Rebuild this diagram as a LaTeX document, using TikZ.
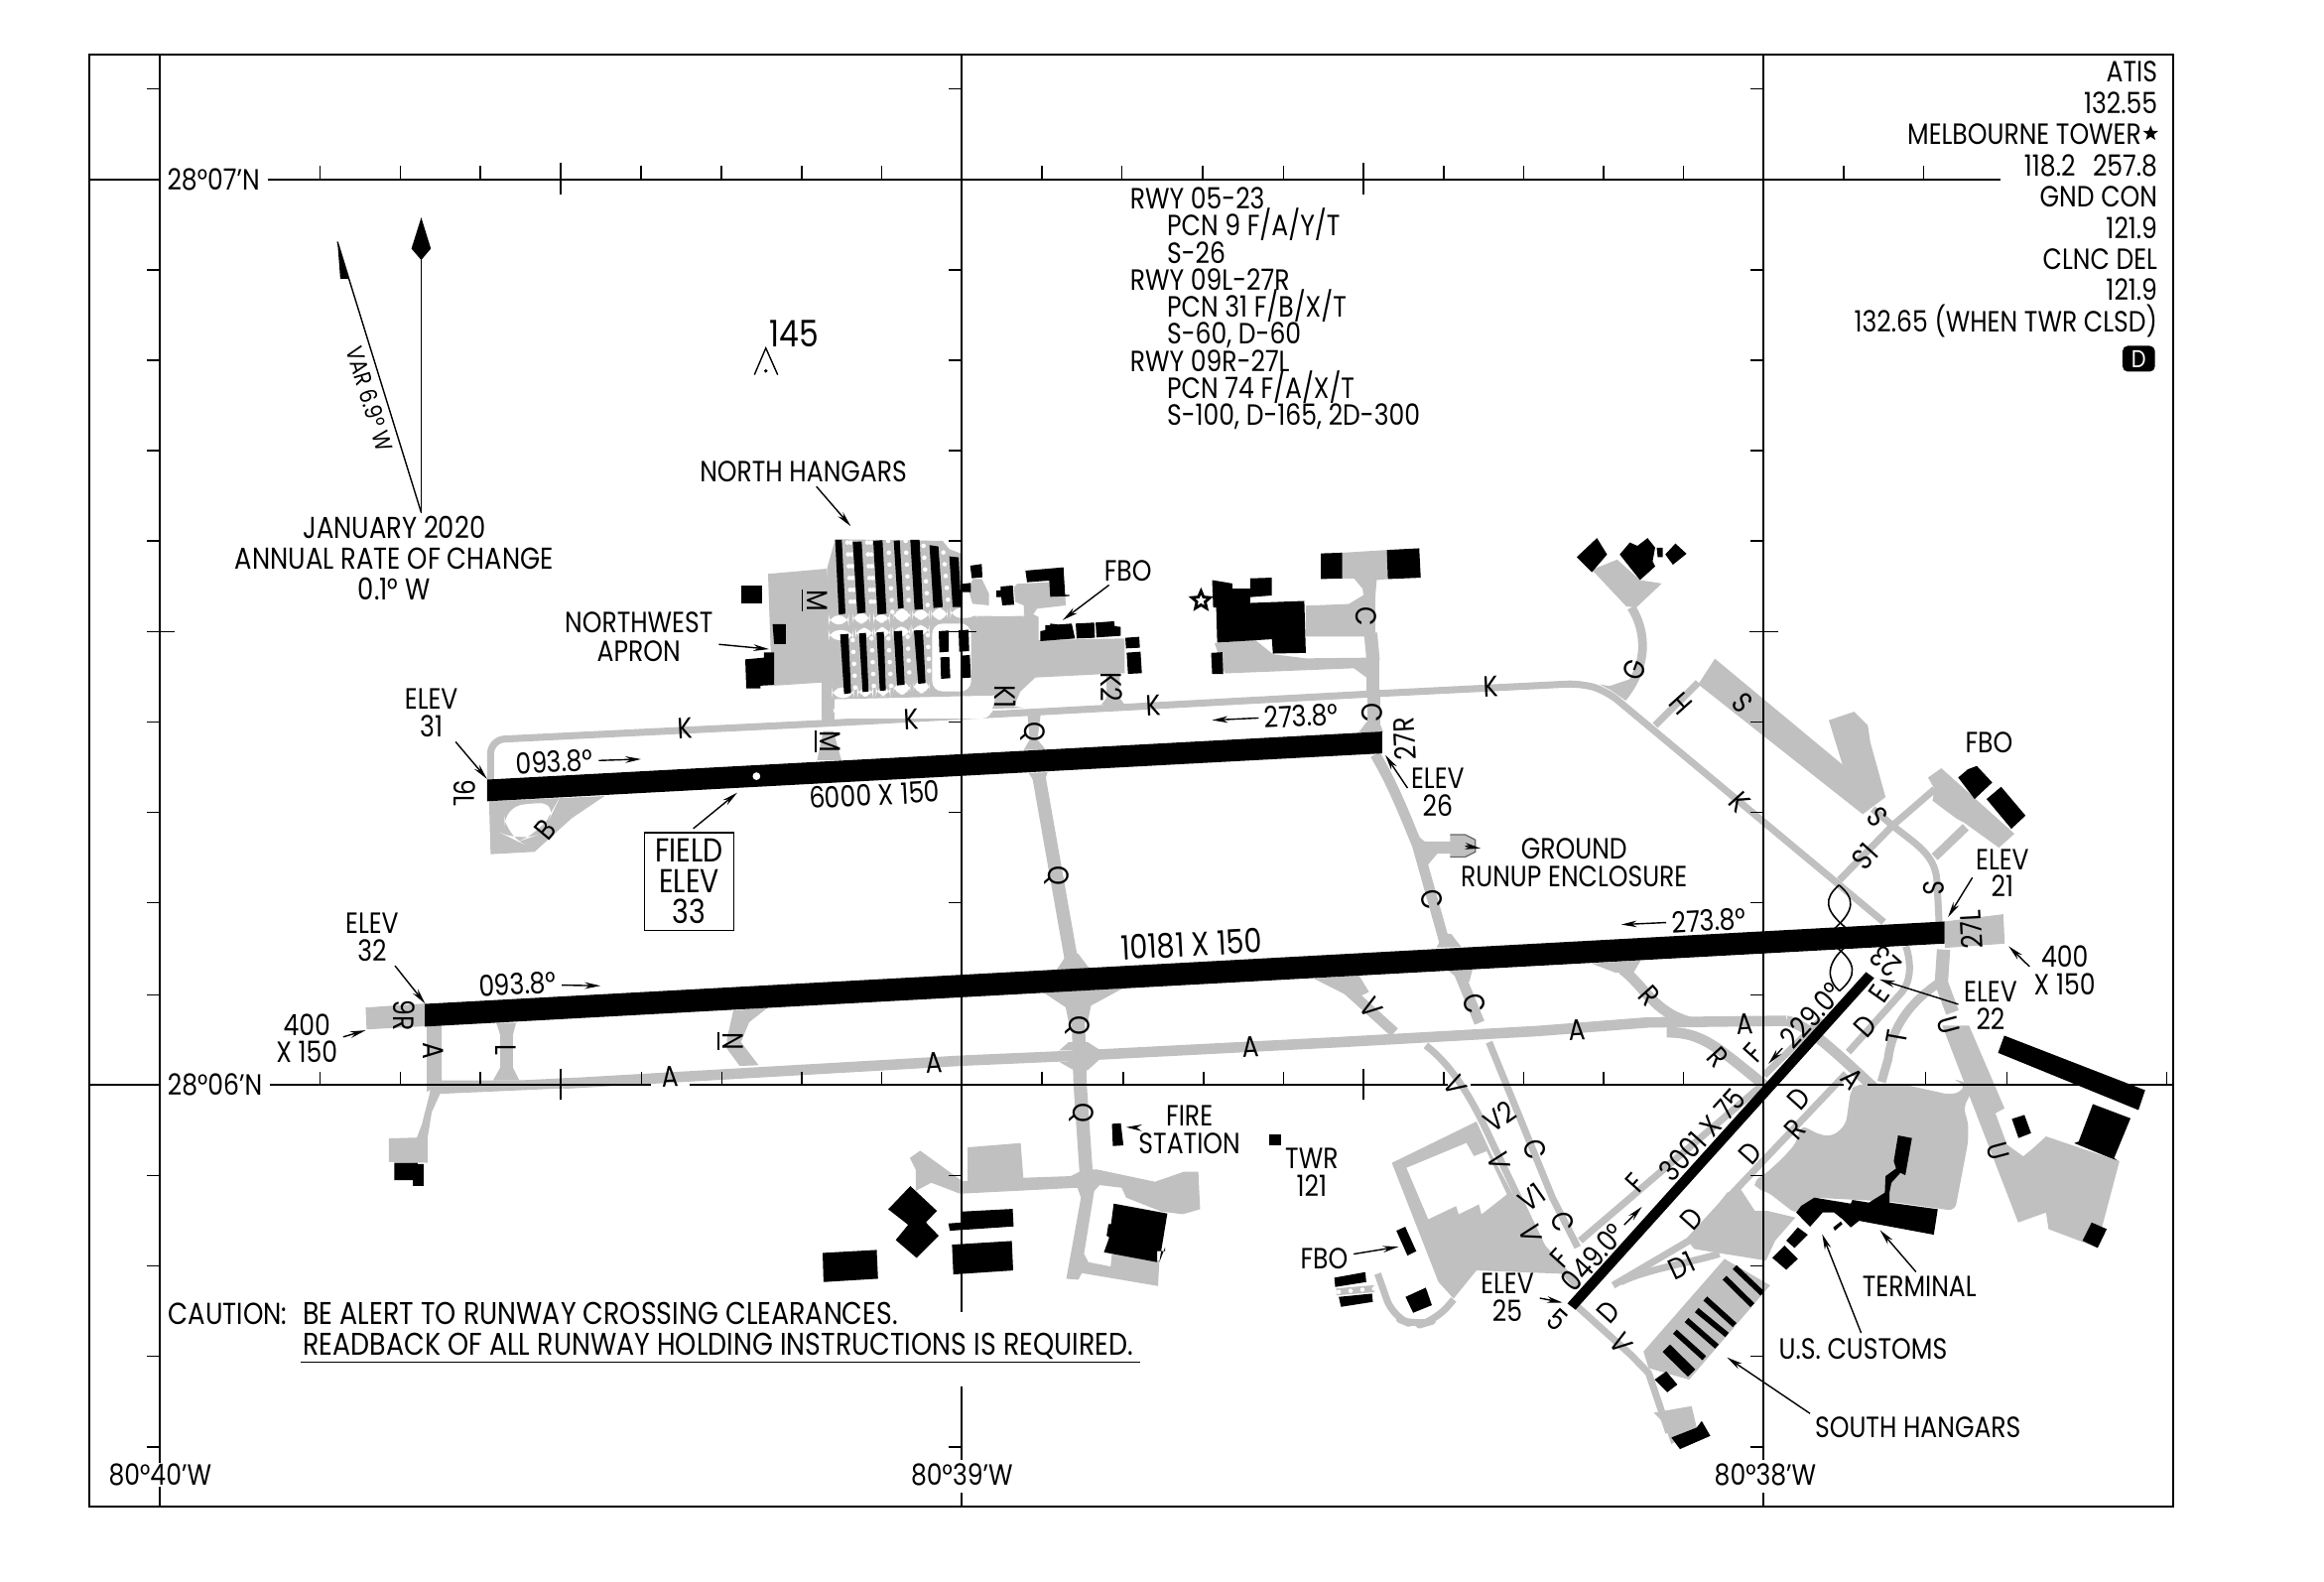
\documentclass[tikz,border=0pt]{standalone}
\usepackage{fontspec}
\setmainfont[FakeStretch=0.85]{Poppins}
\usetikzlibrary{arrows.meta,shapes.geometric}
\definecolor{pavement}{HTML}{C0C0C0}
\normallineskiplimit=-30pt
\lineskiplimit=-30pt
\tikzset{
  apron/.style={fill=pavement},
  bldg/.style={fill=black},
  clear/.style={fill=white,rounded corners=3pt},
  twy/.style={draw=pavement,line width=3pt,line join=round},
  twythin/.style={twy,line width=2pt},
  twywide/.style={twy,line width=3.8pt},
  holes/.style={draw=white,line width=1.3pt,line cap=round,dash pattern=on 0pt off 3.4pt},
  gridline/.style={line width=.55pt},
  gridtick/.style={line width=.4pt},
  pointer/.style={-{Stealth[length=4.5pt,width=1.9pt]},line width=.4pt,shorten <=1.5pt},
  lbl/.style={inner sep=0pt,align=center,font=\fontsize{8.4}{7.9}\selectfont},
  zoneA/.style={shift={(267.8,321.4)},xscale=.3416,yscale=.2306},
  zoneB/.style={shift={(770,334.8)},xscale=.3416,yscale=.2306},
  zoneC/.style={shift={(1037.8,468.7)},xscale=.2989,yscale=.2232},
  zoneD/.style={shift={(903.9,703)},xscale=.3416,yscale=.2232},
  zoneE/.style={shift={(234.3,636)},xscale=.427,yscale=.2232},
  zoneF/.style={shift={(535.6,703)},xscale=.2989,yscale=.2232},
  zoneJ/.style={shift={(53.6,602.6)},xscale=.2232,yscale=.2733},
  zoneN/.style={shift={(522.2,354.8)},scale=.2232},
  zoneT/.style={shift={(1138.2,682.9)},scale=.2232}
}
\begin{document}
\begin{tikzpicture}[x=0.014936cm,y=-0.014936cm]
  \useasboundingbox (0,0) rectangle (1568,1066.6);
  \fill[white] (0,0) rectangle (1568,1066.6);
  % coordinates for the arrow tips
  \coordinate (tipNorthHangars)  at (574,355);
  \coordinate (tipNorthwest)     at (518.9,437.9);
  \coordinate (tipFboNorth)      at (717,418.3);
  \coordinate (tipElevA)         at (328.6,525.5);
  \coordinate (tipField)         at (497.4,534.7);
  \coordinate (tipCourseA)       at (432.5,512.1);
  \coordinate (tipCourseB)       at (817.8,485.8);
  \coordinate (tipElevB)         at (934.7,509.4);
  \coordinate (tipGround)        at (998.9,572.3);
  \coordinate (tipCourseC)       at (405.1,665);
  \coordinate (tipCourseD)       at (1093.8,623.7);
  \coordinate (tipElevC)         at (286.8,677);
  \coordinate (tipPadA)          at (246.7,695);
  \coordinate (tipElevD)         at (1314.3,618.7);
  \coordinate (tipPadB)          at (1355.2,638.3);
  \coordinate (tipElevE)         at (1268,660.7);
  \coordinate (tipCourseE)       at (1193.2,717.6);
  \coordinate (tipCourseF)       at (1107.8,814);
  \coordinate (tipElevF)         at (1054.2,878.7);
  \coordinate (tipFboWest)       at (943.6,841);
  \coordinate (tipFire)          at (759.8,760.4);
  \coordinate (tipTerminal)      at (1268.4,829.8);
  \coordinate (tipCustoms)       at (1229.4,832.5);
  \coordinate (tipSouthHangars)  at (1165.2,915.7);
  % coordinates for the runways
  \coordinate (rwyLnw) at (328.6,525.9);
  \coordinate (rwyLne) at (932.6,493.5);
  \coordinate (rwyLse) at (932.6,508.2);
  \coordinate (rwyLsw) at (328.6,540.5);
  \coordinate (rwyRnw) at (286.7,677.2);
  \coordinate (rwyRne) at (1312,621.6);
  \coordinate (rwyRse) at (1312,636.5);
  \coordinate (rwyRsw) at (286.7,692.5);
  \coordinate (rwyFa)  at (1259,655.7);
  \coordinate (rwyFb)  at (1264.5,659.8);
  \coordinate (rwyFc)  at (1063,883.5);
  \coordinate (rwyFd)  at (1057.5,879.3);
  % drawing the long taxiways
  \draw[twythin,rounded corners=4pt] (331,528) -- (331,499) -- (558,487.9) -- (803.4,474.7) -- (927,468) -- (1067,461)
    -- (1084,466.2) -- (1271,622);
  \draw[twy] (380,731) -- (649,715.5) -- (729,712) -- (904,703) -- (1037.8,695.5) -- (1112,689.7) -- (1205,688.6);
  % drawing the northwest part
  \begin{scope}[zoneA]
    \fill[apron] (733,285) -- (848,270) -- (860,430) -- (868,600) -- (745,612) -- (738,500) -- cycle;
    \draw[twywide] (851,590) -- (851,715);
    \fill[apron] (842,745) -- (862,745) -- (878,830) -- (830,830) -- cycle;
    \fill[apron] (1245,690) -- (1272,690) -- (1265,770) -- (1282,800) -- (1238,800) -- (1250,770) -- cycle;
    \draw[twywide] (1267,870) -- (1335,1440);
    \fill[apron] (1248,868) -- (1285,865) -- (1278,900) -- (1262,900) -- cycle;
    \fill[apron] (1302,1445) -- (1368,1440) -- (1345,1395) -- (1325,1395) -- cycle;
    \fill[apron] (182,950) -- (410,935) -- (345,1000) -- (272,1098) -- (185,1105) -- cycle;
    \fill[white,rounded corners=6pt] (210,965) -- (318,950) -- (310,975) -- (275,1050) -- (240,1068) -- (215,1050) -- cycle;
  \end{scope}
  % drawing the north hangars
  \begin{scope}[zoneN]
    \fill[apron] (185,40) -- (510,45) -- (530,70) -- (570,85) -- (570,272) -- (755,272) -- (780,265) -- (800,275) -- (800,345)
      -- (1060,340) -- (1060,445) -- (990,448) -- (790,458) -- (745,500) -- (725,545) -- (755,550) -- (660,552) -- (672,512) -- (170,524) -- (160,300) -- (160,130) -- cycle;
    \fill[apron] (600,160) -- (628,160) -- (650,205) -- (650,240) -- (600,235) -- (590,200) -- cycle;
    \fill[apron] (735,175) -- (830,170) -- (880,210) -- (882,240) -- (795,250) -- (782,270) -- (755,270) -- (755,240) -- (730,230) -- (725,185) -- cycle;
    \fill[apron] (1005,445) -- (1045,445) -- (1045,520) -- (1060,540) -- (990,540) -- (1005,520) -- cycle;
    % the white ends of the slots
    \fill[clear] (165,270) rectangle (226,298);
    \fill[clear] (238,262) rectangle (290,295);
    \fill[clear] (300,265) rectangle (350,293);
    \fill[clear] (362,250) rectangle (412,290);
    \fill[clear] (418,252) rectangle (470,284);
    \fill[clear] (475,248) rectangle (525,284);
    \fill[clear] (533,248) rectangle (615,278);
    \fill[clear] (630,245) rectangle (755,272);
    \fill[clear] (165,315) rectangle (240,345);
    \fill[clear] (175,488) rectangle (242,520);
    \fill[clear] (246,308) rectangle (300,340);
    \fill[clear] (252,488) rectangle (300,516);
    \fill[clear] (303,306) rectangle (352,338);
    \fill[clear] (308,485) rectangle (352,514);
    \fill[clear] (358,304) rectangle (412,335);
    \fill[clear] (362,470) rectangle (412,510);
    \fill[clear] (416,300) rectangle (470,330);
    \fill[clear] (422,465) rectangle (470,506);
    \fill[clear] (478,295) rectangle (596,500);
    \fill[clear] (180,534) rectangle (660,582);
    % the rows of dots between the hangars
    \draw[holes] (222,50) -- (234,262);
    \draw[holes] (232,50) -- (244,262);
    \draw[holes] (282,50) -- (295,262);
    \draw[holes] (292,50) -- (305,262);
    \draw[holes] (345,45) -- (358,262);
    \draw[holes] (398,45) -- (408,248);
    \draw[holes] (452,60) -- (465,248);
    \draw[holes] (512,80) -- (528,245);
    \draw[holes] (238,345) -- (246,490);
    \draw[holes] (295,340) -- (302,490);
    \draw[holes] (346,340) -- (354,485);
    \draw[holes] (404,335) -- (410,470);
    \draw[holes] (465,330) -- (470,465);
    % the buildings
    \fill[bldg] (185,42) -- (205,42) -- (216,265) -- (196,268) -- cycle;
    \fill[bldg] (238,48) -- (265,47) -- (277,262) -- (252,265) -- cycle;
    \fill[bldg] (300,45) -- (328,43) -- (340,265) -- (313,268) -- cycle;
    \fill[bldg] (362,45) -- (380,43) -- (392,248) -- (375,250) -- cycle;
    \fill[bldg] (412,42) -- (440,42) -- (450,252) -- (425,253) -- cycle;
    \fill[bldg] (470,58) -- (497,62) -- (510,245) -- (482,248) -- cycle;
    \fill[bldg] (530,92) -- (558,95) -- (566,245) -- (540,245) -- cycle;
    \fill[bldg] (200,328) -- (225,326) -- (233,505) -- (212,508) -- cycle;
    \fill[bldg] (257,325) -- (278,323) -- (286,500) -- (268,502) -- cycle;
    \fill[bldg] (310,322) -- (332,320) -- (338,497) -- (320,498) -- cycle;
    \fill[bldg] (362,318) -- (387,317) -- (395,480) -- (372,482) -- cycle;
    \fill[bldg] (423,316) -- (450,315) -- (458,475) -- (436,477) -- cycle;
    \fill[bldg] (498,318) -- (528,316) -- (528,380) -- (500,382) -- cycle;
    \fill[bldg] (558,315) -- (588,314) -- (590,378) -- (560,380) -- cycle;
    \fill[bldg] (503,397) -- (530,396) -- (533,460) -- (505,462) -- cycle;
    \fill[bldg] (565,392) -- (592,390) -- (595,458) -- (568,460) -- cycle;
    \fill[bldg] (593,120) -- (628,115) -- (630,155) -- (598,158) -- cycle;
    \fill[bldg] (570,175) -- (595,172) -- (595,200) -- (570,200) -- cycle;
    \fill[bldg] (685,183) -- (722,180) -- (726,238) -- (690,240) -- (687,215) -- (672,215) -- (672,195) -- (685,195) -- cycle;
    \fill[bldg] (760,135) -- (875,125) -- (880,208) -- (893,208) -- (893,212) -- (835,214) -- (832,165) -- (765,170) -- cycle;
    \fill[bldg] (805,318) -- (820,315) -- (820,300) -- (835,300) -- (835,295) -- (860,298) -- (900,295) -- (910,340) -- (805,348) -- cycle;
    \fill[bldg] (912,295) -- (968,292) -- (970,338) -- (915,340) -- cycle;
    \fill[bldg] (972,292) -- (1028,288) -- (1030,303) -- (1048,305) -- (1048,332) -- (975,337) -- cycle;
    \fill[bldg] (1062,338) -- (1104,335) -- (1106,368) -- (1064,370) -- cycle;
    \fill[bldg] (1066,383) -- (1108,380) -- (1112,445) -- (1070,447) -- cycle;
  \end{scope}
  \begin{scope}[zoneA]
    \fill[bldg] (680,320) -- (722,320) -- (722,372) -- (680,372) -- cycle;
    \fill[bldg] (742,432) -- (768,432) -- (768,490) -- (745,490) -- cycle;
    \fill[bldg] (688,535) -- (725,530) -- (725,515) -- (745,515) -- (745,610) -- (718,612) -- (718,620) -- (690,620) -- cycle;
  \end{scope}
  % drawing the middle part
  \begin{scope}[zoneB]
    \fill[apron] (397,165) -- (485,157) -- (487,242) -- (465,245) -- (462,300) -- (440,300) -- (437,270) -- (420,240) -- (397,240) -- cycle;
    \fill[apron] (325,320) -- (410,315) -- (432,295) -- (462,270) -- (462,410) -- (325,410) -- cycle;
    \fill[apron] (145,430) -- (225,420) -- (260,462) -- (325,474) -- (450,472) -- (470,472) -- (470,570) -- (445,570) -- (445,530) -- (420,503) -- (165,518) -- cycle;
    \draw[twywide] (453,400) -- (458,480);
    \draw[twywide] (460,580) -- (460,690);
    \fill[apron] (430,690) -- (478,690) -- (470,660) -- (445,660) -- cycle;
    \draw[twy] (462,755) .. controls (500,850) and (525,950) .. (545,1020) -- (600,1310);
    \fill[apron] (583,1320) -- (632,1318) -- (612,1280) -- (598,1280) -- cycle;
    \draw[twy] (545,1025) -- (612,1025);
    \fill[apron] (535,980) -- (560,1010) -- (612,1010) -- (612,1045) -- (585,1045) -- (565,1080) -- cycle;
    \draw[draw=black!60,fill=pavement,line width=.35pt] (610,990) -- (640,990) -- (660,1005) -- (660,1040) -- (640,1055) -- (610,1055);
    % the taxiways to the north
    \draw[twythin,line width=2.5pt] (950,590) .. controls (1000,500) and (1000,400) .. (968,325);
    \fill[apron] (905,550) -- (925,555) -- (965,535) -- (970,560) -- (950,590) -- (925,565) -- cycle;
    \fill[apron] (890,215) -- (940,185) -- (985,245) -- (1028,255) -- (978,325) -- (958,322) -- cycle;
    \draw[twythin] (1015,670) -- (1100,545);
    \fill[apron] (1133,475) -- (1385,785) -- (1358,655) -- (1408,630) -- (1435,670) -- (1440,720) -- (1470,880) -- (1425,930) -- (1100,550) -- cycle;
    % the taxiways to the south of the long runway
    \fill[apron] (340,1410) -- (430,1402) -- (450,1450) -- (420,1470) -- cycle;
    \draw[twy] (390,1420) -- (500,1568);
    \fill[apron] (605,1385) -- (655,1380) -- (648,1420) -- (632,1420) -- cycle;
    \draw[twy] (628,1395) -- (668,1540);
    % the buildings
    \fill[bldg] (355,167) -- (397,165) -- (397,240) -- (355,242) -- cycle;
    \fill[bldg] (485,157) -- (549,152) -- (552,238) -- (487,242) -- cycle;
    \fill[bldg] (140,245) -- (180,255) -- (180,270) -- (215,270) -- (215,240) -- (258,238) -- (258,290) -- (215,295) -- (215,312) -- (322,306) -- (325,458) -- (260,460) -- (258,418) -- (150,428) -- (148,325) -- (142,325) -- cycle;
    \fill[bldg] (138,458) -- (160,456) -- (162,520) -- (140,520) -- cycle;
    \fill[bldg] (860,178) -- (900,122) -- (920,170) -- (890,222) -- cycle;
    \fill[bldg] (945,170) -- (965,135) -- (980,145) -- (1000,122) -- (1015,150) -- (1010,190) -- (1015,205) -- (985,245) -- cycle;
    \fill[bldg] (1035,170) -- (1055,138) -- (1077,168) -- (1050,200) -- cycle;
    \fill[bldg] (1018,150) -- (1030,150) -- (1030,178) -- (1020,178) -- cycle;
  \end{scope}
  % drawing the east part
  \begin{scope}[zoneC]
    \fill[apron] (918,685) -- (1050,663) -- (1053,752) -- (918,765) -- cycle;
    \draw[twythin] (755,345) -- (800,395) .. controls (850,450) and (895,480) .. (900,560) -- (905,690);
    \draw[twythin] (680,560) -- (800,395) -- (895,285);
    \draw[twythin,line width=2.5pt] (965,400) -- (895,490);
    \fill[apron] (880,250) -- (910,222) -- (1075,420) -- (1040,462) -- (960,385) -- (945,375) -- (890,320) -- (895,285) -- cycle;
    \fill[apron] (120,812) -- (232,802) -- (215,840) -- (175,840) -- cycle;
    \draw[twy] (190,830) .. controls (240,880) and (260,960) .. (345,990);
    \draw[twy] (290,1020) .. controls (370,1020) and (400,1060) .. (520,1190);
    \draw[twy] (560,985) .. controls (600,995) and (640,1040) .. (760,1190);
    \draw[twythin] (510,1150) -- (640,980);
    \draw[twythin] (700,1080) -- (820,900) .. controls (845,860) and (840,800) .. (830,760);
    \draw[twythin,line width=2.5pt] (905,870) .. controls (850,920) and (800,990) .. (790,1100) -- (775,1170);
    \draw[twywide] (915,770) -- (910,870) -- (935,960);
    % the buildings
    \fill[bldg] (948,250) -- (970,225) -- (990,215) -- (1025,265) -- (985,315) -- cycle;
    \fill[bldg] (1012,315) -- (1045,278) -- (1100,365) -- (1068,405) -- cycle;
    \fill[bldg] (1052,1030) -- (1370,1195) -- (1355,1255) -- (1038,1082) -- cycle;
    \fill[bldg] (1252,1237) -- (1337,1280) -- (1300,1400) -- (1310,1410) -- (1210,1355) -- (1220,1350) -- cycle;
    % the hot spot
    \draw[line width=.45pt] (679,575) .. controls (645,615) and (645,650) .. (695,705);
    \draw[line width=.45pt] (679,575) .. controls (715,615) and (715,650) .. (670,705);
    \draw[line width=.45pt] (670,760) .. controls (720,810) and (720,850) .. (680,895);
    \draw[line width=.45pt] (695,760) .. controls (650,810) and (650,860) .. (680,895);
  \end{scope}
  % drawing the terminal aprons
  \begin{scope}[zoneT]
    \fill[apron,rounded corners=2pt] (495,235) -- (510,218) -- (655,218) -- (800,250) -- (835,235) -- (840,220) -- (800,200) -- (870,220) -- (835,290) -- (850,330) -- (850,390) -- (810,600) -- (615,572) -- (385,560) -- (330,610) -- (240,540) -- (210,535) -- (200,510) -- (235,490) -- (290,440) -- (330,395) -- (345,340) -- (400,370) -- (440,375) -- (480,340) -- cycle;
  \end{scope}
  \begin{scope}[zoneD]
    \fill[apron] (1190,-50) -- (1243,-50) -- (1313,200) -- (1295,215) -- (1318,310) -- (1350,345) -- (1370,320) -- (1395,285) -- (1540,360) -- (1495,620) -- (1400,565) -- (1395,515) -- (1340,545) -- cycle;
    \fill[apron] (690,605) -- (765,455) -- (790,440) -- (820,510) -- (845,510) -- (900,530) -- (860,600) -- (842,660) -- (760,640) -- (700,625) -- cycle;
    \fill[apron] (600,935) -- (760,655) -- (850,735) -- (690,1020) -- (610,985) -- cycle;
    \fill[apron] (620,1120) -- (695,1100) -- (705,1165) -- (655,1215) -- (640,1150) -- cycle;
    \fill[apron] (103,365) -- (270,240) -- (300,340) -- (370,540) -- (415,660) -- (440,700) -- (270,690) -- (225,775) -- (195,725) -- cycle;
    \fill[white] (132,380) -- (250,305) -- (265,345) -- (290,330) -- (330,460) -- (280,520) -- (275,490) -- (235,520) -- (230,495) -- (175,535) -- cycle;
    \draw[twythin,rounded corners=5pt] (75,700) -- (105,830) -- (150,858) -- (190,840) -- (225,778);
    \draw[twythin] (170,10) .. controls (230,80) and (270,200) .. (300,300) -- (400,620) -- (470,740);
    \draw[twythin] (295,0) -- (420,470) -- (470,620);
    \draw[twythin] (475,600) -- (838,125);
    \draw[twythin] (540,735) -- (690,600) -- (780,450) -- (1000,95);
    \draw[twythin] (555,725) .. controls (600,690) and (680,670) .. (750,640);
    \draw[twythin] (470,800) -- (575,945) -- (610,1000) -- (650,1180);
    % the buildings
    \fill[bldg] (1485,545) -- (1515,565) -- (1497,622) -- (1467,600) -- cycle;
    \fill[bldg] (130,770) -- (170,742) -- (182,795) -- (145,818) -- cycle;
    \draw[line width=1.6pt] (780,680) -- (835,760);
    \draw[line width=1.6pt] (760,712) -- (815,795);
    \draw[line width=1.6pt] (722,775) -- (780,855);
    \draw[line width=1.6pt] (705,810) -- (765,885);
    \draw[line width=1.6pt] (685,840) -- (745,920);
    \draw[line width=1.6pt] (662,875) -- (720,955);
    \draw[line width=3pt] (645,925) -- (695,1000);
    \fill[bldg] (622,1020) -- (645,995) -- (667,1035) -- (647,1058) -- cycle;
    \fill[bldg] (655,1195) -- (705,1165) -- (715,1145) -- (732,1190) -- (672,1230) -- cycle;
  \end{scope}
  \begin{scope}[zoneT]
    \fill[bldg] (638,372) -- (680,380) -- (660,492) -- (645,485) -- (618,515) -- (612,545) -- (612,575) -- (758,595) -- (746,672) -- (520,630) -- (495,650) -- (470,625) -- (445,605) -- (410,605) -- (372,648) -- (330,605) -- (345,585) -- (385,560) -- (495,578) -- (500,567) -- (550,575) -- (598,545) -- (600,495) -- (632,472) -- (625,450) -- cycle;
    \fill[bldg] (442,650) -- (465,632) -- (470,640) -- (447,660) -- cycle;
    \fill[bldg] (335,650) -- (365,672) -- (325,712) -- (300,690) -- cycle;
    \fill[bldg] (295,705) -- (335,745) -- (300,778) -- (258,742) -- cycle;
    \fill[bldg] (982,322) -- (1020,310) -- (1040,365) -- (1002,380) -- cycle;
  \end{scope}
  % drawing the southwest part
  \begin{scope}[zoneJ]
    \fill[apron] (865,282) -- (1045,272) -- (1048,328) -- (868,336) -- cycle;
    \fill[apron] (1050,320) -- (1095,320) -- (1095,470) -- (1050,490) -- cycle;
    \fill[apron] (1260,320) -- (1320,320) -- (1310,350) -- (1310,430) -- (1330,462) -- (1250,462) -- (1272,430) -- (1272,350) -- cycle;
    \fill[apron] (1060,462) -- (1320,462) -- (1500,455) -- (1500,480) -- (1090,495) -- (1060,495) -- cycle;
    \fill[apron] (1060,490) -- (1090,495) -- (1065,540) -- (1052,605) -- (1052,665) -- (935,663) -- (935,605) -- (1020,603) -- (1035,570) -- cycle;
    \fill[bldg] (952,665) -- (1022,665) -- (1022,668) -- (1040,668) -- (1040,722) -- (1008,722) -- (1008,708) -- (952,708) -- cycle;
  \end{scope}
  \begin{scope}[zoneE]
    \fill[apron] (610,205) -- (665,195) -- (635,240) -- (622,300) -- (650,370) -- (620,372) -- (600,320) -- (600,290) -- cycle;
    \draw[twywide] (1155,230) -- (1158,430) -- (1168,710);
    \fill[apron] (1100,150) -- (1135,195) -- (1140,240) -- (1170,240) -- (1175,190) -- (1225,138) -- cycle;
    \fill[apron] (1125,325) -- (1140,300) -- (1170,300) -- (1190,325) -- cycle;
    \fill[apron] (1125,360) -- (1148,385) -- (1170,385) -- (1190,350) -- cycle;
  \end{scope}
  \begin{scope}[zoneF]
    \fill[apron] (262,350) -- (285,328) -- (380,420) -- (392,420) -- (392,318) -- (512,305) -- (518,410) -- (625,405) -- (655,385) -- (685,385) -- (815,422) -- (880,392) -- (913,392) -- (917,505) -- (878,520) -- (830,512) -- (750,470) -- (740,440) -- (690,432) -- (678,450) -- (655,640) -- (665,665) -- (715,678) -- (718,640) -- (825,660) -- (822,737) -- (650,698) -- (642,718) -- (615,715) -- (648,470) -- (640,440) -- (375,458) -- (340,440) -- (310,425) -- (275,450) -- (275,385) -- cycle;
    \fill[bldg] (722,488) -- (843,518) -- (825,665) -- (838,620) -- (838,632) -- (820,632) -- (820,665) -- (700,635) -- (712,590) -- (706,585) -- (710,550) -- (716,550) -- cycle;
    \fill[bldg] (263,435) -- (323,510) -- (298,545) -- (327,585) -- (277,652) -- (230,598) -- (258,552) -- (213,505) -- cycle;
    \fill[bldg] (380,512) -- (494,504) -- (496,557) -- (352,570) -- (349,548) -- (380,545) -- cycle;
    \fill[bldg] (357,612) -- (492,601) -- (495,690) -- (360,702) -- cycle;
    \fill[bldg] (65,637) -- (187,628) -- (190,715) -- (67,725) -- cycle;
    \fill[bldg] (718,247) -- (738,245) -- (744,312) -- (720,314) -- cycle;
    \fill[bldg] (1072,278) -- (1100,278) -- (1100,312) -- (1072,312) -- cycle;
    \fill[bldg] (1360,570) -- (1380,558) -- (1405,632) -- (1385,645) -- cycle;
    \fill[bldg] (1220,712) -- (1290,695) -- (1292,725) -- (1222,740) -- cycle;
    \fill[bldg] (1230,770) -- (1305,760) -- (1307,785) -- (1235,800) -- cycle;
    \draw[twythin] (1225,755) -- (1310,745);
    \draw[holes] (1230,755) -- (1310,745);
  \end{scope}
  % drawing the runways
  \fill[bldg] (rwyLnw) -- (rwyLne) -- (rwyLse) -- (rwyLsw) -- cycle;
  \fill[bldg] (rwyRnw) -- (rwyRne) -- (rwyRse) -- (rwyRsw) -- cycle;
  \fill[bldg] (rwyFa) -- (rwyFb) -- (rwyFc) -- (rwyFd) -- cycle;
  \fill[white] (510.4,523.6) circle (2.6);
  % drawing the frame and the graticule
  \draw[gridline] (60,37) rectangle (1466,1016);
  \draw[gridline] (60,121) -- (108,121) (180.5,121) -- (1350,121);
  \draw[gridline] (60,732) -- (108,732) (182,732) -- (439,732) (465,732) -- (977,732) (992,732) -- (1244,732) (1260,732) -- (1466,732);
  \draw[gridline] (108,37) -- (108,987) (108,1003) -- (108,1016);
  \draw[gridline] (649,37) -- (649,885) (649,935) -- (649,985) (649,1007) -- (649,1016);
  \draw[gridline] (1190,37) -- (1190,985) (1190,1007) -- (1190,1016);
  \draw[gridtick] (216,121) -- ++(0,-9) (270,121) -- ++(0,-9) (324,121) -- ++(0,-9) (378.3,110) -- ++(0,21) (432.5,121) -- ++(0,-9) (486.7,121) -- ++(0,-9)
    (541,121) -- ++(0,-9) (595,121) -- ++(0,-9) (703,121) -- ++(0,-9) (757,121) -- ++(0,-9) (811.5,121) -- ++(0,-9) (866,121) -- ++(0,-9) (920,110) -- ++(0,21)
    (974,121) -- ++(0,-9) (1028,121) -- ++(0,-9) (1082,121) -- ++(0,-9) (1136,121) -- ++(0,-9) (1244,121) -- ++(0,-9) (1298,121) -- ++(0,-9);
  \draw[gridtick] (216,732) -- ++(0,-9) (270,732) -- ++(0,-9) (324,732) -- ++(0,-9) (378.3,721) -- ++(0,21) (433,732) -- ++(0,-9) (487,732) -- ++(0,-9)
    (541,732) -- ++(0,-9) (595,732) -- ++(0,-9) (703,732) -- ++(0,-9) (758,732) -- ++(0,-9) (812,732) -- ++(0,-9) (866,732) -- ++(0,-9) (920,721) -- ++(0,21)
    (974,732) -- ++(0,-9) (1028,732) -- ++(0,-9) (1082,732) -- ++(0,-9) (1136,732) -- ++(0,-9) (1299,732) -- ++(0,-9) (1354,732) -- ++(0,-9) (1462,732) -- ++(0,-9);
  \draw[gridtick] (108,60) -- ++(-9,0) (108,182) -- ++(-9,0) (108,243) -- ++(-9,0) (108,304) -- ++(-9,0) (108,365) -- ++(-9,0) (99,426) -- ++(19,0)
    (108,487) -- ++(-9,0) (108,548) -- ++(-9,0) (108,609) -- ++(-9,0) (108,671) -- ++(-9,0) (108,793) -- ++(-9,0) (108,854) -- ++(-9,0) (108,915) -- ++(-9,0) (108,976) -- ++(-9,0);
  \draw[gridtick] (649,60) -- ++(-9,0) (649,182) -- ++(-9,0) (649,243) -- ++(-9,0) (649,304) -- ++(-9,0) (649,365) -- ++(-9,0) (639,426) -- ++(20,0)
    (649,487) -- ++(-9,0) (649,548) -- ++(-9,0) (649,609) -- ++(-9,0) (649,671) -- ++(-9,0) (649,793) -- ++(-9,0) (649,976) -- ++(-9,0);
  \draw[gridtick] (1190,60) -- ++(-9,0) (1190,182) -- ++(-9,0) (1190,243) -- ++(-9,0) (1190,304) -- ++(-9,0) (1190,365) -- ++(-9,0) (1180,426) -- ++(20,0)
    (1190,487) -- ++(-9,0) (1190,548) -- ++(-9,0) (1190,609) -- ++(-9,0) (1190,671) -- ++(-9,0) (1190,793) -- ++(-9,0) (1190,854) -- ++(-9,0) (1190,915) -- ++(-9,0) (1190,976) -- ++(-9,0);
  % drawing the north arrows and the obstacle
  \draw[line width=.4pt] (284.2,345.8) -- (284.2,170);
  \fill[bldg] (284.2,146.7) -- (290.7,167.7) -- (284.2,175.4) -- (277.6,167.7) -- cycle;
  \draw[line width=.4pt] (284.2,345.8) -- (227.7,163.1);
  \fill[bldg] (227.7,163.1) -- (235,188) -- (229.6,188) -- cycle;
  \draw[line width=.4pt] (509,252.8) -- (516.7,234.8) -- (524.7,252.8);
  \fill[bldg] (516.7,250.2) circle (1.3);
  % the header texts
  \node[lbl,anchor=north east,font=\fontsize{8.4}{8.95}\selectfont,align=right] (lblFreqs) at (1456,41) {ATIS\\132.55\\MELBOURNE TOWER\rule{4.6pt}{0pt}\\118.2\hspace{5pt}257.8\\GND CON\\121.9\\CLNC DEL\\121.9\\132.65 (WHEN TWR CLSD)};
  \node[star,star points=5,star point ratio=2.4,fill=black,inner sep=0pt,minimum size=4.6pt] (starTower) at (1451,90) {};
  \node[fill=black,text=white,rounded corners=1.5pt,inner sep=0pt,minimum width=9.3pt,minimum height=7.4pt,font=\fontsize{7}{7}\selectfont] (boxD) at (1443,242) {D};
  \node[lbl,anchor=north west,align=left,font=\fontsize{8.4}{7.75}\selectfont] (lblPcn) at (762,126) {RWY 05-23\\\hspace*{10.6pt}PCN 9 F/A/Y/T\\\hspace*{10.6pt}S-26\\RWY 09L-27R\\\hspace*{10.6pt}PCN 31 F/B/X/T\\\hspace*{10.6pt}S-60, D-60\\RWY 09R-27L\\\hspace*{10.6pt}PCN 74 F/A/X/T\\\hspace*{10.6pt}S-100, D-165, 2D-300};
  \node[lbl] (lblLatA) at (144,121) {28°07’N};
  \node[lbl] (lblLatB) at (145,732) {28°06’N};
  \node[lbl] (lblLonA) at (108,995) {80°40’W};
  \node[lbl] (lblLonB) at (649,995) {80°39’W};
  \node[lbl] (lblLonC) at (1191,995) {80°38’W};
  \node[lbl,font=\fontsize{6.8}{7}\selectfont,rotate=-73] (lblVar) at (249.6,268.9) {VAR 6.9° W};
  \node[lbl,font=\fontsize{8.65}{8.7}\selectfont] (lblChange) at (266,376.5) {JANUARY 2020\\ANNUAL RATE OF CHANGE\\0.1° W};
  \node[lbl,font=\fontsize{10.5}{11}\selectfont] (lblObstacle) at (536,225) {145};
  \node[lbl] (lblNorthHangars) at (542,318) {NORTH HANGARS};
  \node[lbl,font=\fontsize{8.4}{8.3}\selectfont] (lblNorthwest) at (431,429.5) {NORTHWEST\\APRON};
  \node[lbl] (lblFboNorth) at (761,385) {FBO};
  \node[lbl] (lblElevA) at (291,481) {ELEV\\31};
  \node[lbl,draw,line width=.4pt,minimum width=25.5pt,minimum height=28pt,font=\fontsize{9.5}{8.9}\selectfont] (lblField) at (465,594.6) {FIELD\\ELEV\\33};
  \node[lbl,rotate=3] (lblCourseA) at (374,514) {093.8°};
  \node[lbl,rotate=3] (lblLenA) at (590,536) {6000 X 150};
  \node[lbl,rotate=3] (lblCourseB) at (878,483) {273.8°};
  \node[lbl] (lblElevB) at (970,534.5) {ELEV\\26};
  \node[lbl] (lblGround) at (1062,582) {GROUND\\RUNUP ENCLOSURE};
  \node[lbl,rotate=3,font=\fontsize{9.6}{9.6}\selectfont] (lblLenB) at (804,637) {10181 X 150};
  \node[lbl,rotate=3] (lblCourseC) at (349,664) {093.8°};
  \node[lbl,rotate=3] (lblCourseD) at (1153,621) {273.8°};
  \node[lbl] (lblElevC) at (251,632) {ELEV\\32};
  \node[lbl] (lblPadA) at (207,700.5) {400\\X 150};
  \node[lbl] (lblElevD) at (1351,589) {ELEV\\21};
  \node[lbl] (lblPadB) at (1393,654.5) {400\\X 150};
  \node[lbl] (lblElevE) at (1343,678.5) {ELEV\\22};
  \node[lbl,rotate=48] (lblCourseE) at (1222,685) {229.0°};
  \node[lbl,rotate=48] (lblLenC) at (1148.2,765.5) {3001 X 75};
  \node[lbl,rotate=48] (lblCourseF) at (1074.7,848) {049.0°};
  \node[lbl] (lblElevF) at (1017,875) {ELEV\\25};
  \node[lbl] (lblFboEast) at (1342,501) {FBO};
  \node[lbl] (lblFboWest) at (893.4,849.2) {FBO};
  \node[lbl] (lblFire) at (802.5,762) {FIRE\\STATION};
  \node[lbl] (lblTower) at (885,791) {TWR\\121};
  \node[lbl] (lblTerminal) at (1295,868) {TERMINAL};
  \node[lbl] (lblCustoms) at (1257,910) {U.S. CUSTOMS};
  \node[lbl] (lblSouthHangars) at (1294,963) {SOUTH HANGARS};
  \node[lbl,anchor=west,font=\fontsize{8.7}{9}\selectfont] (lblCaution) at (113,886) {CAUTION:};
  \node[lbl,anchor=north west,align=left,font=\fontsize{9}{8.95}\selectfont] (lblCautionText) at (204,878) {BE ALERT TO RUNWAY CROSSING CLEARANCES.\\READBACK OF ALL RUNWAY HOLDING INSTRUCTIONS IS REQUIRED.};
  \draw[line width=.4pt] (203,919) -- (769,919);
  \node[star,star points=5,star point ratio=2.2,draw,line width=.8pt,inner sep=0pt,minimum size=5.5pt] (starBeacon) at (810.3,405.1) {};
  % the runway numbers
  \node[lbl,rotate=-90] (rwyNineL) at (313.9,534.7) {9L};
  \node[lbl,rotate=-90] (rwyNineR) at (272.7,685) {9R};
  \node[lbl,rotate=93] (rwyTwoR) at (947.6,498.5) {27R};
  \node[lbl,rotate=93] (rwyTwoL) at (1330,627.2) {27L};
  \node[lbl,rotate=138] (rwyTwoThree) at (1272.4,648.4) {23};
  \node[lbl,rotate=-42] (rwyFive) at (1050.8,890) {5};
  % the taxiway letters
  \node[lbl,rotate=3] (twyKa) at (462,491) {K};
  \node[lbl,rotate=3] (twyKb) at (615,485) {K};
  \node[lbl,rotate=3] (twyKc) at (778,476) {K};
  \node[lbl,rotate=3] (twyKd) at (1006,463) {K};
  \node[lbl,rotate=-48] (twyKe) at (1174,541) {K};
  \node[lbl,rotate=-90] (twyMa) at (549,405) {\underline{M}};
  \node[lbl,rotate=-90] (twyMb) at (558,500) {\underline{M}};
  \node[lbl,rotate=-90] (twyKone) at (678.4,469.8) {K1};
  \node[lbl,rotate=-90] (twyKtwo) at (750.3,463.5) {K2};
  \node[lbl,rotate=-90] (twyQa) at (697,494) {Q};
  \node[lbl,rotate=-90] (twyQb) at (713,591) {Q};
  \node[lbl,rotate=-90] (twyQc) at (727,692) {Q};
  \node[lbl,rotate=-90] (twyQd) at (730,751) {Q};
  \node[lbl,rotate=50] (twyB) at (368,560) {B};
  \node[lbl,rotate=-90] (twyCa) at (922,416) {C};
  \node[lbl,rotate=-90] (twyCb) at (926,481) {C};
  \node[lbl,rotate=-75] (twyCc) at (966,607) {C};
  \node[lbl,rotate=-75] (twyCd) at (995,677) {C};
  \node[lbl,rotate=-75] (twyCe) at (1035.4,775.5) {C};
  \node[lbl,rotate=-75] (twyCf) at (1054.2,824) {C};
  \node[lbl,rotate=70] (twyG) at (1103,452) {G};
  \node[lbl,rotate=-48] (twyH) at (1134,475) {H};
  \node[lbl,rotate=-48] (twySa) at (1176,474) {S};
  \node[lbl,rotate=-48] (twySb) at (1267,551) {S};
  \node[lbl,rotate=48] (twySone) at (1258,578) {S1};
  \node[lbl,rotate=-90] (twySc) at (1305,599) {S};
  \node[lbl,rotate=-55] (twyVa) at (925,680) {V};
  \node[lbl,rotate=-60] (twyVb) at (982,732) {V};
  \node[lbl,rotate=-75] (twyVc) at (1011.5,783.4) {V};
  \node[lbl,rotate=-75] (twyVd) at (1033,832.5) {V};
  \node[lbl,rotate=-55] (twyVe) at (1093.5,906) {V};
  \node[lbl,rotate=35] (twyVtwo) at (1011.5,753.2) {V2};
  \node[lbl,rotate=35] (twyVone) at (1033.7,807.9) {V1};
  \node[lbl,rotate=48] (twyFa) at (1103.7,797.9) {F};
  \node[lbl,rotate=48] (twyFb) at (1052.5,849.2) {F};
  \node[lbl,rotate=48] (twyFc) at (1183,710) {F};
  \node[lbl,rotate=-48] (twyRa) at (1113,672) {R};
  \node[lbl,rotate=-48] (twyRb) at (1158.9,713.5) {R};
  \node[lbl,rotate=48] (twyRc) at (1211.3,762) {R};
  \node[lbl,rotate=3] (twyAa) at (452,726) {A};
  \node[lbl,rotate=3] (twyAb) at (630,717) {A};
  \node[lbl,rotate=3] (twyAc) at (844,706) {A};
  \node[lbl,rotate=3] (twyAd) at (1064,695) {A};
  \node[lbl,rotate=3] (twyAe) at (1177,691) {A};
  \node[lbl,rotate=-48] (twyAf) at (1250,728) {A};
  \node[lbl,rotate=-90] (twyAg) at (292.4,709) {A};
  \node[lbl,rotate=-90] (twyL) at (341,708) {L};
  \node[lbl,rotate=-90] (twyN) at (492.6,702.5) {\underline{N}};
  \node[lbl,rotate=48] (twyDa) at (1258.4,692.3) {D};
  \node[lbl,rotate=48] (twyDb) at (1214,741) {D};
  \node[lbl,rotate=48] (twyDc) at (1181,778) {D};
  \node[lbl,rotate=48] (twyDd) at (1141.3,822.4) {D};
  \node[lbl,rotate=48] (twyDe) at (1085,885) {D};
  \node[lbl,rotate=25] (twyDone) at (1134.5,853.7) {D1};
  \node[lbl,rotate=55] (twyE) at (1268,670.7) {E};
  \node[lbl,rotate=80] (twyT) at (1279.9,699.7) {T};
  \node[lbl,rotate=-75] (twyUa) at (1314.3,691.9) {U};
  \node[lbl,rotate=-75] (twyUb) at (1348,776.7) {U};
  % drawing the pointers
  \draw[pointer] (lblNorthHangars) -- (tipNorthHangars);
  \draw[pointer] (lblNorthwest) -- (tipNorthwest);
  \draw[pointer] (lblFboNorth) -- (tipFboNorth);
  \draw[pointer] (lblElevA) -- (tipElevA);
  \draw[pointer] (lblField.north) -- (tipField);
  \draw[pointer] (lblCourseA) -- (tipCourseA);
  \draw[pointer] (lblCourseB) -- (tipCourseB);
  \draw[pointer] (lblElevB.west) -- (tipElevB);
  \draw[pointer] (lblGround) -- (tipGround);
  \draw[pointer] (lblCourseC) -- (tipCourseC);
  \draw[pointer] (lblCourseD) -- (tipCourseD);
  \draw[pointer] (lblElevC) -- (tipElevC);
  \draw[pointer] (lblPadA.east) -- (tipPadA);
  \draw[pointer] (lblElevD.west) -- (tipElevD);
  \draw[pointer] (lblPadB.west) -- (tipPadB);
  \draw[pointer] (lblElevE.west) -- (tipElevE);
  \draw[pointer] (lblCourseE) -- (tipCourseE);
  \draw[pointer] (lblCourseF) -- (tipCourseF);
  \draw[pointer] (lblElevF.east) -- (tipElevF);
  \draw[pointer] (lblFboWest) -- (tipFboWest);
  \draw[pointer] (lblFire) -- (tipFire);
  \draw[pointer] (lblTerminal.north) -- (tipTerminal);
  \draw[pointer] (lblCustoms.north) -- (tipCustoms);
  \draw[pointer] (lblSouthHangars.north west) -- (tipSouthHangars);
\end{tikzpicture}
\end{document}
